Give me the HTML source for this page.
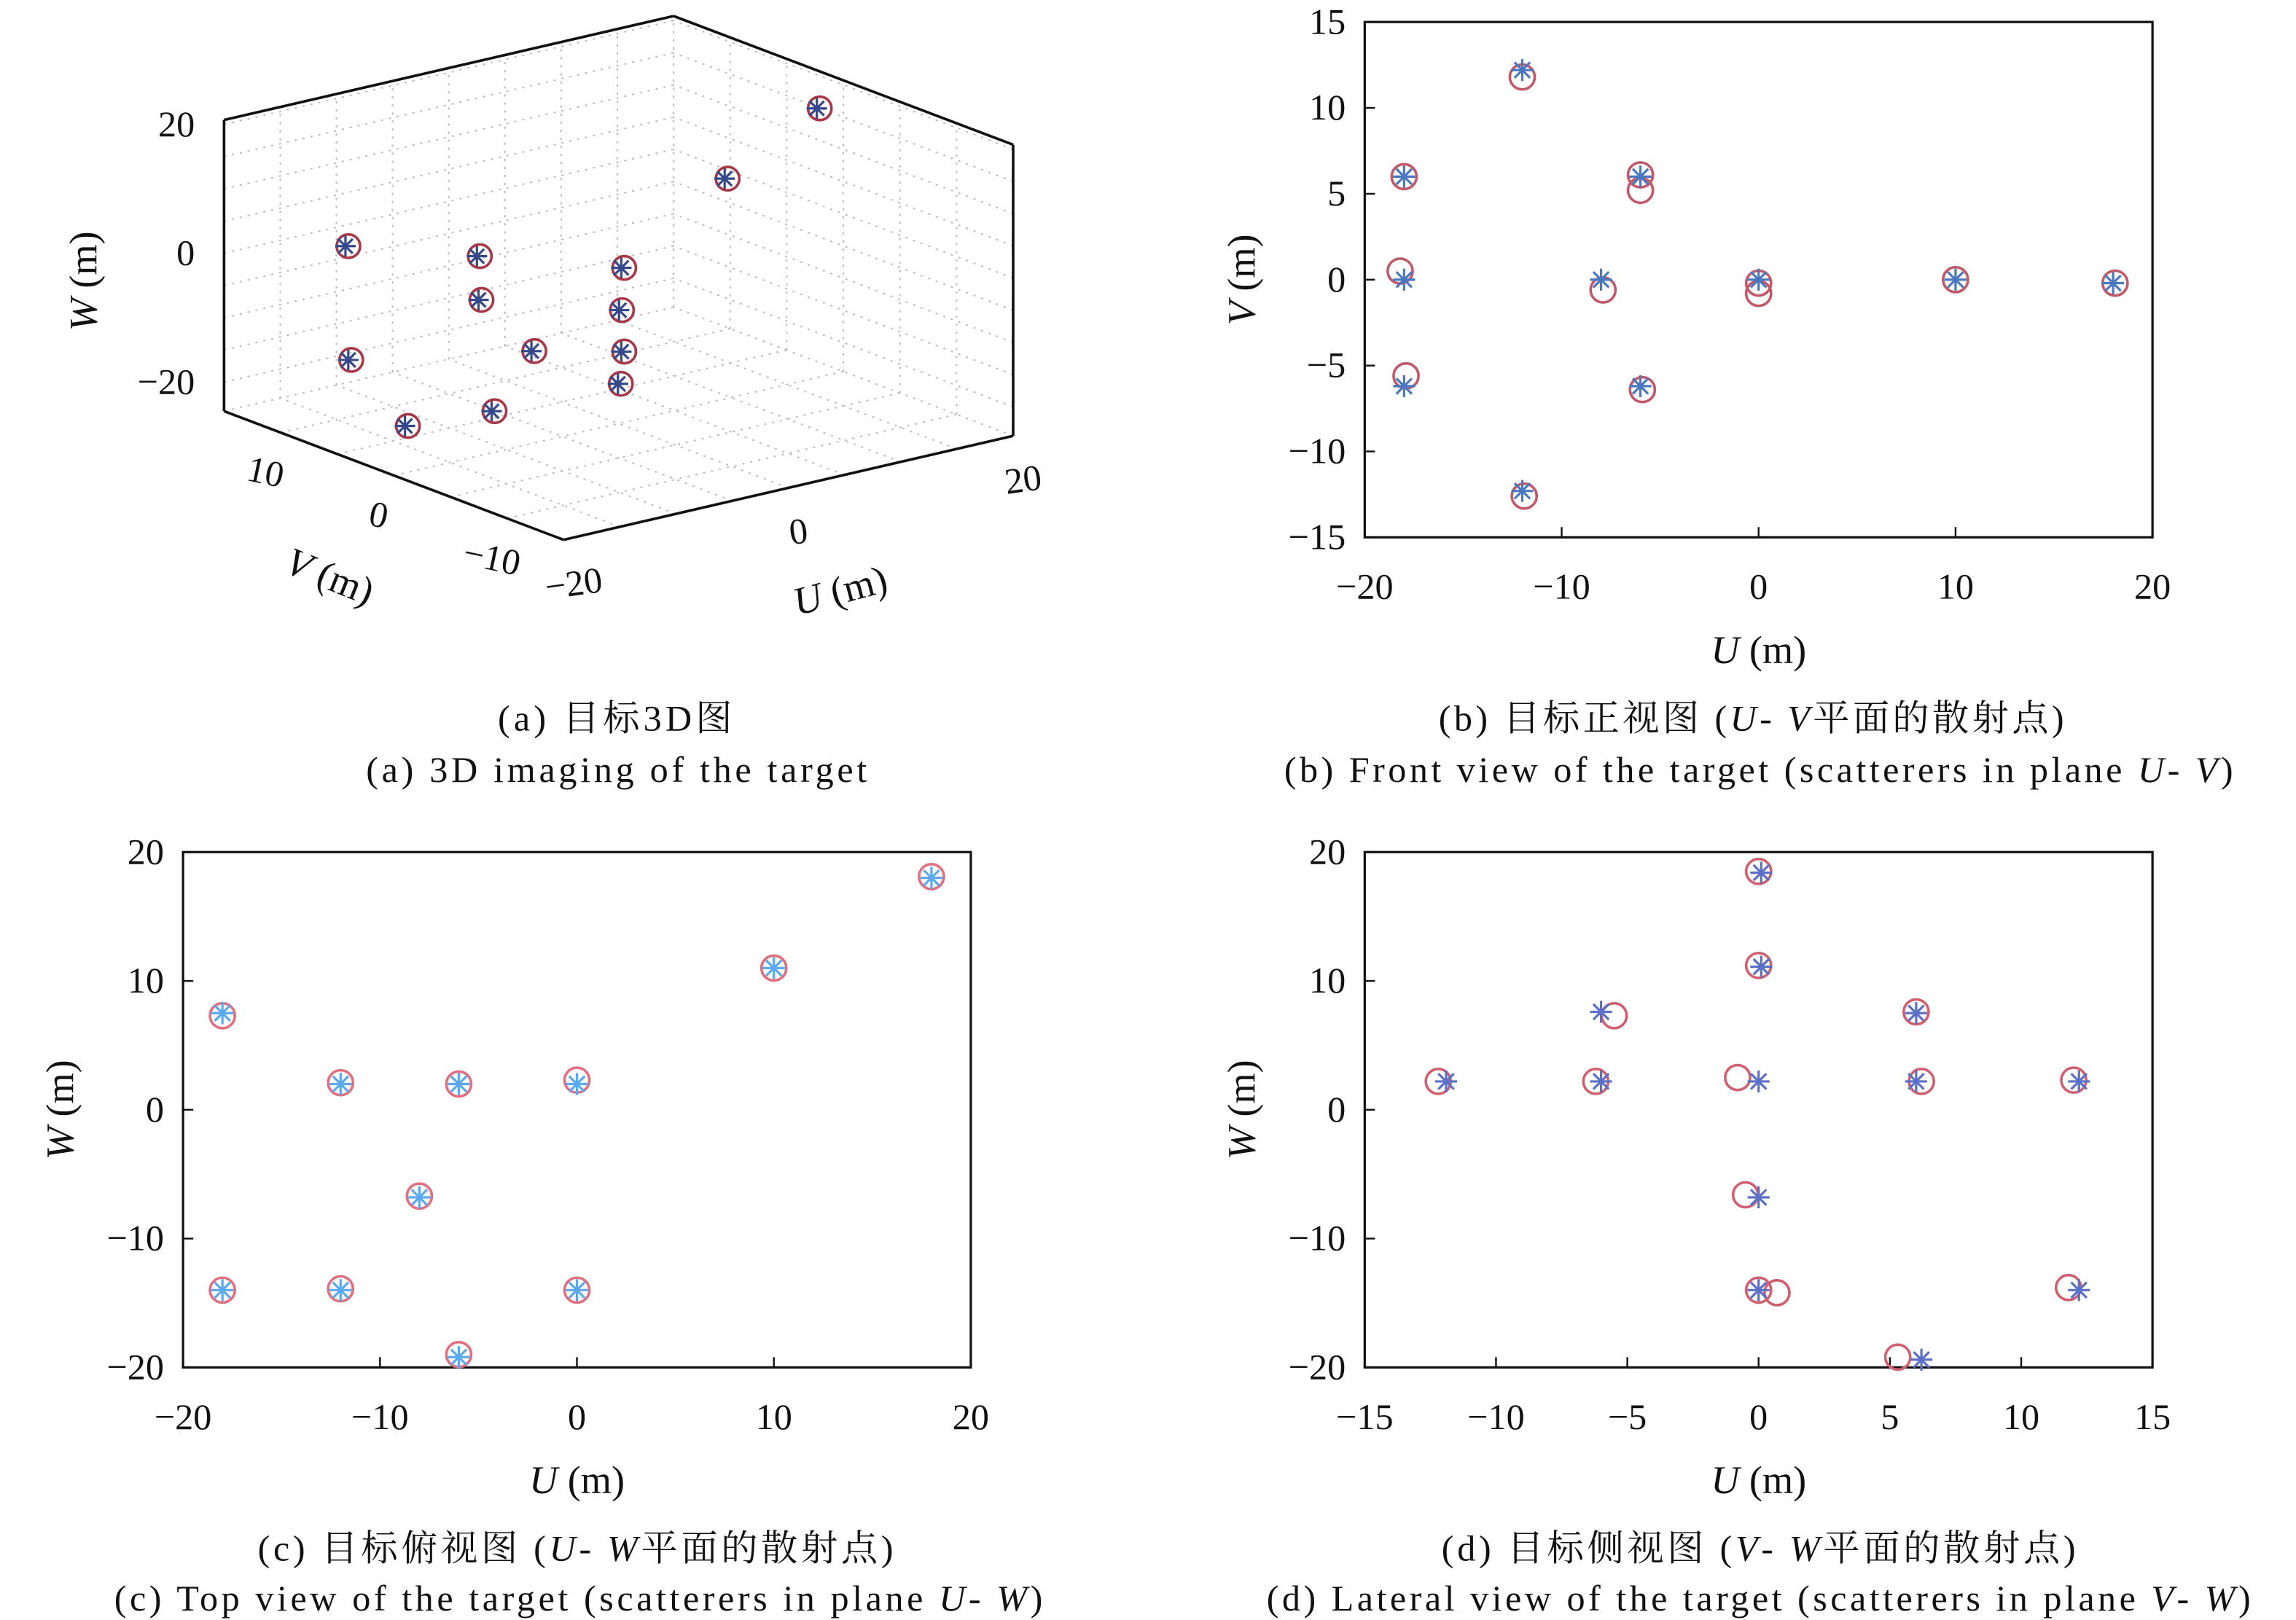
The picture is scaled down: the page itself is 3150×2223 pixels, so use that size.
<!DOCTYPE html>
<html><head><meta charset="utf-8">
<style>
html,body{margin:0;padding:0;background:#fff;}
svg{display:block;}
text{font-family:"Liberation Serif","Noto Serif CJK SC","Noto Sans CJK SC",serif;fill:#111;}
</style></head>
<body>
<svg id="fig" width="3150" height="2223" viewBox="0 0 1568 1106.5" xmlns="http://www.w3.org/2000/svg">
<g id="pa"></g>
<g id="pb"></g>
<g id="pc"></g>
<g id="pd"></g>
<g font-size="25" text-anchor="middle">
<text x="420" y="499" textLength="160" lengthAdjust="spacing">(a) 目标3D图</text>
<text x="421" y="534" textLength="342" lengthAdjust="spacing">(a) 3D imaging of the target</text>
<text x="1196" y="499" textLength="427" lengthAdjust="spacing">(b) 目标正视图 (<tspan font-style="italic">U</tspan>- <tspan font-style="italic">V</tspan>平面的散射点)</text>
<text x="1201" y="534" textLength="648" lengthAdjust="spacing">(b) Front view of the target (scatterers in plane <tspan font-style="italic">U</tspan>- <tspan font-style="italic">V</tspan>)</text>
<text x="393" y="1066" textLength="434" lengthAdjust="spacing">(c) 目标俯视图 (<tspan font-style="italic">U</tspan>- <tspan font-style="italic">W</tspan>平面的散射点)</text>
<text x="395" y="1100" textLength="634" lengthAdjust="spacing">(c) Top view of the target (scatterers in plane <tspan font-style="italic">U</tspan>- <tspan font-style="italic">W</tspan>)</text>
<text x="1201" y="1066" textLength="433" lengthAdjust="spacing">(d) 目标侧视图 (<tspan font-style="italic">V</tspan>- <tspan font-style="italic">W</tspan>平面的散射点)</text>
<text x="1201" y="1100" textLength="672" lengthAdjust="spacing">(d) Lateral view of the target (scatterers in plane <tspan font-style="italic">V</tspan>- <tspan font-style="italic">W</tspan>)</text>
</g>
</svg>
<script>
// ---- Panel a (3D) data ----
const aU = [17.9, 9.7, -18, -6, -12, 0, 0, -8, 0, 0, -18, -6, -12];
const aV = [0, 0, 6, 6.3, 0.2, -0.5, -0.3, -0.5, -0.5, -0.2, 5.75, 5, 6.7];
const aW = [17.2, 9.6, 6.3, -0.3, -0.6, 0, -6.7, -9.7, -13, -18.2, -11.2, -23.5, -24.5];
const aWTicks = [20, 0, -20];
const aVTicks = [10, 0, -10];
const aUTicks = [-20, 0, 20];
// ---- Panel b (U-V) ----
const bStarU = [-12, -18, -6, -18, -8, 0, 10, 18, -18, -6, -12];
const bStarV = [12.2, 6, 6, 0, 0, 0, 0, -0.2, -6.2, -6.2, -12.3];
const bCircU = [-12, -18, -6, -6, -18.2, -7.9, 0, 0, 10, 18.1, -17.9, -5.9, -11.9];
const bCircV = [11.8, 6, 6.1, 5.2, 0.5, -0.6, -0.2, -0.8, 0, -0.2, -5.6, -6.4, -12.6];
const bXTicks = [-20, -10, 0, 10, 20];
const bYTicks = [15, 10, 5, 0, -5, -10, -15];
// ---- Panel c (U-W) ----
const cStarU = [-18, -12, -6, 0, 10, 18, -8, -18, -12, 0, -6];
const cStarW = [7.5, 2, 2, 2, 11, 18, -6.8, -14, -14, -14, -19.2];
const cCircU = [-18, -12, -6, 0, 10, 18, -8, -18, -12, 0, -6];
const cCircW = [7.3, 2.1, 2, 2.3, 11, 18.1, -6.7, -14, -13.9, -14, -19];
const cXTicks = [-20, -10, 0, 10, 20];
const cYTicks = [20, 10, 0, -10, -20];
// ---- Panel d (V-W) ----
const dStarV = [0.1, 0.1, -6, 6, -11.9, -6, 0, 6, 12.2, 0, 0, 12.2, 6.2];
const dStarW = [18.4, 11.1, 7.6, 7.5, 2.2, 2.2, 2.2, 2.2, 2.2, -6.8, -14, -14, -19.4];
const dCircV = [0, 0, -5.5, 6, -12.2, -6.2, -0.8, 6.2, 12, -0.5, 0, 0.7, 11.8, 5.3];
const dCircW = [18.5, 11.2, 7.3, 7.6, 2.2, 2.2, 2.5, 2.2, 2.3, -6.6, -14, -14.2, -13.8, -19.2];
const dXTicks = [-15, -10, -5, 0, 5, 10, 15];
const dYTicks = [20, 10, 0, -10, -20];

const NS = "http://www.w3.org/2000/svg";
function mk(parent, tag, attrs) {
  const e = document.createElementNS(NS, tag);
  for (const k in attrs) e.setAttribute(k, attrs[k]);
  parent.appendChild(e);
  return e;
}
function fmt(v){ return v < 0 ? "\u2212" + Math.abs(v) : String(v); }

function star(g, x, y, r, color, name) {
  const s = mk(g, "g", {stroke: color, "stroke-width": 1.6});
  
  
  for (let i = 0; i < 4; i++) {
    const a = i * Math.PI / 4;
    mk(s, "line", {x1: x - r*Math.cos(a), y1: y - r*Math.sin(a), x2: x + r*Math.cos(a), y2: y + r*Math.sin(a)});
  }
}
function circ(g, x, y, r, color, name) {
  const c = mk(g, "circle", {cx: x, cy: y, r: r, fill: "none", stroke: color, "stroke-width": 1.8});
  
  
}

function panel2D(gid, box, xr, yr, xt, yt, ylab, xlab, sx, sy, cx, cy, starCol, circCol) {
  const g = document.getElementById(gid);
  const X = v => box.l + (v - xr[0]) / (xr[1] - xr[0]) * (box.r - box.l);
  const Y = v => box.b - (v - yr[0]) / (yr[1] - yr[0]) * (box.b - box.t);
  const frame = mk(g, "rect", {x: box.l, y: box.t, width: box.r - box.l, height: box.b - box.t, fill: "none", stroke: "#111", "stroke-width": 1.6});
  
  
  xt.forEach(v => {
    const t = mk(g, "line", {x1: X(v), y1: box.b, x2: X(v), y2: box.b - 7, stroke: "#111", "stroke-width": 1.2});
    
    
    const l = mk(g, "text", {x: X(v), y: box.b + 42, "text-anchor": "middle", "font-size": 25});
    
    
    l.textContent = fmt(v);
  });
  yt.forEach(v => {
    const t = mk(g, "line", {x1: box.l, y1: Y(v), x2: box.l + 7, y2: Y(v), stroke: "#111", "stroke-width": 1.2});
    
    
    const l = mk(g, "text", {x: box.l - 13, y: Y(v) + 8, "text-anchor": "end", "font-size": 25});
    
    
    l.textContent = fmt(v);
  });
  const xl = mk(g, "text", {x: (box.l + box.r) / 2, y: box.b + 86, "text-anchor": "middle", "font-size": 27});
  
  
  xl.innerHTML = '<tspan font-style="italic">' + xlab + '</tspan> (m)';
  const yx = box.l - 75, yy = (box.t + box.b) / 2;
  const yl = mk(g, "text", {x: yx, y: yy, "text-anchor": "middle", "font-size": 27, transform: "rotate(-90 " + yx + " " + yy + ")"});
  
  
  yl.innerHTML = '<tspan font-style="italic">' + ylab + '</tspan> (m)';
  cx.forEach((v, i) => circ(g, X(v), Y(cy[i]), 8.5, circCol, 'true-scatterer-circle'));
  sx.forEach((v, i) => star(g, X(v), Y(sy[i]), 7.5, starCol, 'estimated-scatterer-star'));
}

panel2D("pb", {l: 932, r: 1470, t: 15, b: 367}, [-20, 20], [-15, 15], bXTicks, bYTicks, "V", "U",
  bStarU, bStarV, bCircU, bCircV, "#4a78c0", "#c05a6a");
panel2D("pc", {l: 125, r: 663, t: 582, b: 934}, [-20, 20], [-20, 20], cXTicks, cYTicks, "W", "U",
  cStarU, cStarW, cCircU, cCircW, "#5aa8f0", "#e07080");
panel2D("pd", {l: 932, r: 1470, t: 582, b: 934}, [-15, 15], [-20, 20], dXTicks, dYTicks, "W", "U",
  dStarV, dStarW, dCircV, dCircW, "#5a70c8", "#d06070");

// ---- Panel a 3D ----
(function(){
  const g = document.getElementById("pa");
  const P = (u, v, w) => [422.45 + 7.675*u - 7.73*v, 181.45 - 1.775*u - 2.93*v - 4.4*w];
  const U0 = -20, U1 = 20, V0 = -15, V1 = 15, W0 = -24.5, W1 = 20.7;
  function ln(a, b, attrs, name) {
    const e = mk(g, "line", Object.assign({x1: a[0], y1: a[1], x2: b[0], y2: b[1]}, attrs));
    
    
  }
  const grid = {stroke: "#bbb", "stroke-width": 1, "stroke-dasharray": "1.5 4"};
  for (let u = -20; u <= 20; u += 5) ln(P(u, V1, W0), P(u, V1, W1), grid, 'grid-line');
  for (let w = -20; w <= 20; w += 5) ln(P(U0, V1, w), P(U1, V1, w), grid, 'grid-line');
  for (let v = -15; v <= 15; v += 5) ln(P(U1, v, W0), P(U1, v, W1), grid, 'grid-line');
  for (let w = -20; w <= 20; w += 5) ln(P(U1, V0, w), P(U1, V1, w), grid, 'grid-line');
  for (let u = -20; u <= 20; u += 5) ln(P(u, V0, W0), P(u, V1, W0), grid, 'grid-line');
  for (let v = -15; v <= 15; v += 5) ln(P(U0, v, W0), P(U1, v, W0), grid, 'grid-line');
  const edge = {stroke: "#111", "stroke-width": 1.8};
  ln(P(U0, V1, W0), P(U0, V1, W1), edge, 'w-axis-edge');
  ln(P(U0, V1, W1), P(U1, V1, W1), edge, 'box-edge');
  ln(P(U1, V1, W1), P(U1, V0, W1), edge, 'box-edge');
  ln(P(U1, V0, W1), P(U1, V0, W0), edge, 'box-edge');
  ln(P(U0, V1, W0), P(U0, V0, W0), edge, 'v-axis-edge');
  ln(P(U0, V0, W0), P(U1, V0, W0), edge, 'u-axis-edge');
  aWTicks.forEach(w => {
    const p = P(U0, V1, w);
    const t = mk(g, "text", {x: p[0] - 20, y: p[1] + 8, "text-anchor": "end", "font-size": 25});
    
    
    t.textContent = fmt(w);
  });
  aVTicks.forEach(v => {
    const p = P(U0, v, W0);
    const t = mk(g, "text", {x: p[0] - 12, y: p[1] + 35, "text-anchor": "middle", "font-size": 25, transform: "rotate(12 " + (p[0]-12) + " " + (p[1]+35) + ")"});
    
    
    t.textContent = fmt(v);
  });
  aUTicks.forEach(u => {
    const p = P(u, V0, W0);
    const t = mk(g, "text", {x: p[0] + 8, y: p[1] + 38, "text-anchor": "middle", "font-size": 25, transform: "rotate(-8 " + (p[0]+8) + " " + (p[1]+38) + ")"});
    
    
    t.textContent = fmt(u);
  });
  const wl = mk(g, "text", {x: 66, y: 192, "text-anchor": "middle", "font-size": 27, transform: "rotate(-90 66 192)"});
  
  
  wl.innerHTML = '<tspan font-style="italic">W</tspan> (m)';
  const vl = mk(g, "text", {x: 222, y: 402, "text-anchor": "middle", "font-size": 27, transform: "rotate(22 222 402)"});
  
  
  vl.innerHTML = '<tspan font-style="italic">V</tspan> (m)';
  const ul = mk(g, "text", {x: 576, y: 412, "text-anchor": "middle", "font-size": 27, transform: "rotate(-15 576 412)"});
  
  
  ul.innerHTML = '<tspan font-style="italic">U</tspan> (m)';
  aU.forEach((u, i) => {
    const p = P(u, aV[i], aW[i]);
    circ(g, p[0], p[1], 8, "#a83848", 'true-scatterer-circle');
    star(g, p[0] - 2, p[1], 7, "#34488a", 'estimated-scatterer-star');
  });
})();
</script>
</body></html>
